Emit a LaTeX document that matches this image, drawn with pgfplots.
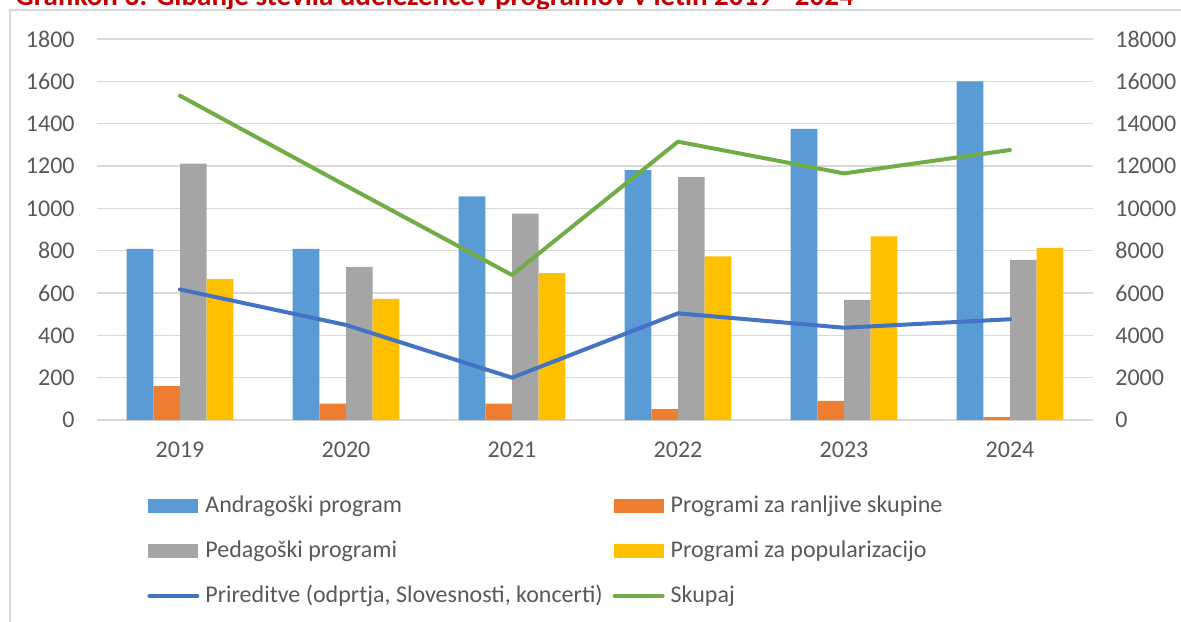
\documentclass[border=0pt]{standalone}
\usepackage{fontspec}
\setmainfont{Carlito}
\usepackage{pgfplots}
\pgfplotsset{compat=1.18}

\definecolor{cAndr}{HTML}{5B9BD5}
\definecolor{cRanl}{HTML}{ED7D31}
\definecolor{cPed}{HTML}{A5A5A5}
\definecolor{cPop}{HTML}{FFC000}
\definecolor{cPrir}{HTML}{4472C4}
\definecolor{cSkup}{HTML}{70AD47}
\definecolor{txt}{HTML}{595959}
\definecolor{gridc}{HTML}{D9D9D9}
\definecolor{titlered}{HTML}{C00000}

% 1 px of the reference = 0.5pt
\pgfplotsset{
  base/.style={
    width=498pt, height=190.5pt, scale only axis,
    at={(48.5pt,-210pt)}, anchor=south west,
    xmin=-0.5, xmax=5.5,
    major tick length=0pt,
    tick label style={font=\fontsize{12}{14}\selectfont, text=txt, inner sep=0pt},
    /pgf/number format/assume math mode=true,
    scaled y ticks=false,
    yticklabel style={/pgf/number format/fixed, /pgf/number format/1000 sep={}},
  },
  barimg/.style={legend image code/.code={\fill[##1] (0pt,-3.5pt) rectangle (25pt,3.5pt);}},
  lineimg/.style={legend image code/.code={\draw[##1] (0.5pt,0pt) -- (24.5pt,0pt);}},
}

\begin{document}
\begin{tikzpicture}
\begin{scope}
\clip (0,0) rectangle (590.5pt,-310.5pt);

% title, partly cut off at the top edge
\node[anchor=base west, inner sep=0pt, text=titlered, font=\fontsize{14.5}{17}\selectfont\bfseries]
  at (7.5pt,-2.5pt) {Grafikon 3: Gibanje števila udeležencev programov v letih 2019 - 2024};

% chart frame
\draw[gridc, line width=1pt] (5pt,-330pt) -- (5pt,-5pt) -- (600pt,-5pt);

\begin{axis}[base,
  ybar=0pt, bar width=13.35pt,
  ymin=0, ymax=1800, ytick distance=200,
  ymajorgrids, grid style={gridc, line width=0.6pt},
  axis x line*=bottom, axis y line*=left,
  x axis line style={gridc, line width=0.8pt, -},
  y axis line style={draw=none},
  xtick=data, xticklabels={2019,2020,2021,2022,2023,2024},
  xticklabel style={yshift=-11pt},
  yticklabel style={xshift=-11pt},
]
\addplot[fill=cAndr, draw=none] coordinates {(0,808) (1,808) (2,1057) (3,1180) (4,1375) (5,1600)};
\addplot[fill=cRanl, draw=none] coordinates {(0,160) (1,77) (2,77) (3,52) (4,90) (5,14)};
\addplot[fill=cPed, draw=none] coordinates {(0,1211) (1,724) (2,975) (3,1148) (4,567) (5,756)};
\addplot[fill=cPop, draw=none] coordinates {(0,667) (1,572) (2,694) (3,773) (4,868) (5,813)};
\end{axis}

\begin{axis}[base,
  ymin=0, ymax=18000, ytick distance=2000,
  axis x line=none, axis y line*=right,
  y axis line style={draw=none},
  yticklabel style={xshift=11pt},
  legend columns=2,
  legend cell align=left,
  legend style={at={(0.0502,-0.196)}, anchor=north west, draw=none, fill=none,
    inner sep=0pt, row sep=11.5pt,
    font=\fontsize{12}{14}\selectfont, text=txt,
    nodes={inner ysep=0pt, inner xsep=3pt, text height=8.5pt, text depth=2.5pt},
    /tikz/every even column/.append style={column sep=2pt}},
]
\addlegendimage{barimg, fill=cAndr, draw=none}
\addlegendentry{Andragoški program}
\addlegendimage{barimg, fill=cRanl, draw=none}
\addlegendentry{Programi za ranljive skupine}
\addlegendimage{barimg, fill=cPed, draw=none}
\addlegendentry{Pedagoški programi}
\addlegendimage{barimg, fill=cPop, draw=none}
\addlegendentry{Programi za popularizacijo}
\addplot[lineimg, cPrir, line width=2pt, line cap=round, line join=round, mark=none]
  coordinates {(0,6170) (1,4490) (2,2000) (3,5040) (4,4360) (5,4760)};
\addlegendentry{Prireditve (odprtja, Slovesnosti, koncerti)}
\addplot[lineimg, cSkup, line width=2pt, line cap=round, line join=round, mark=none]
  coordinates {(0,15320) (1,11070) (2,6850) (3,13150) (4,11650) (5,12756)};
\addlegendentry{Skupaj}
\end{axis}
\end{scope}
\pgfresetboundingbox
\useasboundingbox (0,0) rectangle (590.5pt,-310.5pt);
\end{tikzpicture}
\end{document}
